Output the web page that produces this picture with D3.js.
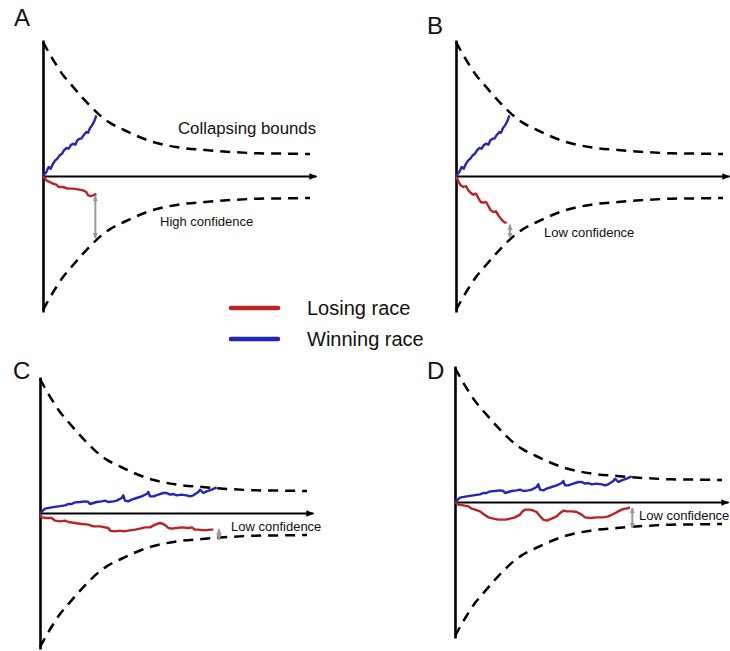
<!DOCTYPE html>
<html><head><meta charset="utf-8">
<script src="https://cdn.jsdelivr.net/npm/d3@7"></script>
<style>
body{margin:0;background:#fff}
svg{display:block}
text{font-family:"Liberation Sans",Arial,Helvetica,sans-serif;fill:#111}
</style>
</head><body>
<svg id="chart" width="730" height="651"></svg>
<script>
// ---- data (time in ms, evidence in arbitrary units) ----
const timeMax = 819;
const evMax = 408;

// collapsing bound: time samples and bound level (symmetric +/-)
const boundTime  = [0, 10, 20, 40, 60, 81, 121, 162, 200, 243, 324, 405, 486, 567, 648, 729, 801];
const boundLevel = [402, 384, 366, 333, 303, 278, 232, 190, 160, 138, 104, 86, 78, 72, 68, 67, 66];

// winning race used in panels A and B
const winAB = [[0,0],[10,12],[17,27],[23,22],[30,37],[37,47],[43,52],[50,62],[57,67],[63,77],[70,84],[77,82],
  [83,92],[90,97],[97,94],[103,107],[110,112],[115,112],[123,124],[130,132],[135,130],[140,142],[147,152],
  [150,157],[155,167],[160,182]];
// losing race panel A (high confidence)
const loseA = [[0,0],[10,-13],[20,-18],[30,-23],[40,-26],[47,-33],[60,-33],[75,-38],[90,-38],[105,-40],
  [120,-43],[130,-48],[135,-58],[145,-60],[155,-56],[160,-53]];
// losing race panel B (low confidence)
const loseB = [[0,0],[7,-16],[14,-28],[22,-33],[30,-30],[37,-43],[44,-50],[52,-56],[60,-53],[67,-66],
  [74,-78],[82,-80],[90,-78],[97,-90],[104,-103],[112,-108],[120,-106],[127,-118],[134,-128],[142,-136],
  [147,-140],[152,-140]];
// winning race used in panels C and D
const winCD = [[0,0],[15,13],[35,17],[55,20],[75,23],[85,27],[95,27],[105,32],[120,33],[135,35],[145,33],
  [150,27],[160,30],[170,33],[185,35],[195,37],[205,33],[220,35],[230,37],[245,45],[250,53],[255,37],
  [265,35],[275,40],[290,45],[305,50],[320,57],[325,63],[330,50],[340,50],[355,55],[370,60],[380,60],
  [390,55],[400,57],[410,53],[425,55],[440,53],[450,50],[460,53],[475,63],[480,70],[490,60],[500,65],
  [515,70],[530,77]];
// losing race panel C
const loseC = [[0,0],[5,-13],[20,-15],[35,-15],[45,-23],[60,-25],[75,-23],[85,-27],[105,-30],[125,-33],
  [145,-35],[160,-40],[180,-40],[195,-43],[205,-45],[210,-53],[225,-55],[240,-53],[250,-55],[265,-53],
  [285,-50],[300,-47],[315,-43],[330,-43],[345,-35],[360,-30],[370,-33],[380,-40],[385,-45],[395,-47],
  [410,-45],[425,-43],[445,-45],[455,-43],[465,-50],[475,-50],[495,-52],[510,-50],[520,-50]];
// losing race panel D
const loseD = [[0,0],[10,-8],[25,-10],[40,-13],[50,-20],[60,-23],[75,-28],[85,-36],[100,-46],[115,-50],
  [130,-53],[150,-53],[165,-50],[180,-46],[195,-38],[203,-28],[210,-23],[225,-23],[235,-26],[245,-30],
  [255,-43],[265,-53],[275,-56],[290,-50],[305,-43],[315,-33],[325,-26],[335,-28],[350,-28],[365,-30],
  [380,-38],[390,-46],[405,-48],[425,-46],[445,-46],[460,-43],[475,-36],[490,-28],[500,-23],[510,-20],
  [515,-20],[525,-16]];

// confidence gap arrows: [time, from evidence, to evidence]
const gapA = [157, -60, -186];
const gapB = [162, -146, -186];
const gapC = [537, -48, -80];
const gapD = [532, -18, -78];

const panelLetters = ["A", "B", "C", "D"];
const gapLabels = ["High confidence", "Low confidence", "Low confidence", "Low confidence"];
const legendLabels = ["Losing race", "Winning race"];

// ---- drawing ----
const RED = "#bb2222", BLUE = "#2424b8", GREY = "#999999";
const svg = d3.select("#chart");
const defs = svg.append("defs");
defs.append("marker").attr("id","axArrow").attr("markerUnits","userSpaceOnUse")
  .attr("viewBox","0 -5 10 10").attr("refX",9).attr("refY",0)
  .attr("markerWidth",9).attr("markerHeight",8).attr("orient","auto")
  .append("path").attr("d","M0,-4L10,0L0,4Z").attr("fill","#000");
defs.append("marker").attr("id","gArrow").attr("markerUnits","userSpaceOnUse")
  .attr("viewBox","0 -5 10 10").attr("refX",9).attr("refY",0)
  .attr("markerWidth",6).attr("markerHeight",6).attr("orient","auto-start-reverse")
  .append("path").attr("d","M0,-4.5L10,0L0,4.5Z").attr("fill",GREY);

const layout = [
  {ox:43,  oy:176, lx:14,  ly:26,  win:winAB, lose:loseA, gap:gapA, tx:160, ty:225.5},
  {ox:456, oy:176, lx:427, ly:34,  win:winAB, lose:loseB, gap:gapB, tx:544, ty:237},
  {ox:40,  oy:513, lx:13,  ly:379, win:winCD, lose:loseC, gap:gapC, tx:231, ty:530.5},
  {ox:455, oy:502, lx:427, ly:379, win:winCD, lose:loseD, gap:gapD, tx:639, ty:520}
];

layout.forEach((p, i) => {
  const x = d3.scaleLinear().domain([0, timeMax]).range([p.ox, p.ox + 273]);
  const y = d3.scaleLinear().domain([-evMax, evMax]).range([p.oy + 136, p.oy - 136]);
  const g = svg.append("g");

  // vertical axis
  const ya = g.append("g").attr("transform", `translate(${x(0)},0)`)
    .call(d3.axisLeft(y).tickValues([]).tickSizeOuter(0));
  ya.select(".domain").attr("stroke","#000").attr("stroke-width",2.6);

  // horizontal axis with arrow
  const xa = g.append("g").attr("transform", `translate(0,${y(0)})`)
    .call(d3.axisBottom(x).tickValues([]).tickSizeOuter(0));
  xa.select(".domain").attr("stroke","#000").attr("stroke-width",1.8)
    .attr("marker-end","url(#axArrow)");

  // bounds
  const bound = boundTime.map((t, k) => [t, boundLevel[k]]);
  const bl = d3.line().x(d => x(d[0])).y(d => y(d[1])).curve(d3.curveMonotoneX);
  const bl2 = d3.line().x(d => x(d[0])).y(d => y(-d[1])).curve(d3.curveMonotoneX);
  [bl, bl2].forEach(gen => g.append("path").attr("d", gen(bound))
    .attr("fill","none").attr("stroke","#000").attr("stroke-width",2.5)
    .attr("stroke-dasharray","10,7"));

  // races
  const wl = d3.line().x(d => x(d[0])).y(d => y(d[1]));
  g.append("path").attr("d", wl(p.lose)).attr("fill","none").attr("stroke",RED)
    .attr("stroke-width",2.4).attr("stroke-linejoin","round");
  g.append("path").attr("d", wl(p.win)).attr("fill","none").attr("stroke",BLUE)
    .attr("stroke-width",2.4).attr("stroke-linejoin","round");

  // confidence arrow
  g.append("line").attr("x1", x(p.gap[0])).attr("x2", x(p.gap[0]))
    .attr("y1", y(p.gap[1])).attr("y2", y(p.gap[2]))
    .attr("stroke",GREY).attr("stroke-width",2)
    .attr("marker-start","url(#gArrow)").attr("marker-end","url(#gArrow)");

  g.append("text").attr("x", p.tx).attr("y", p.ty).attr("font-size", 13)
    .text(gapLabels[i]);

  svg.append("text").attr("x", p.lx).attr("y", p.ly).attr("font-size", 24)
    .text(panelLetters[i]);
});

svg.append("text").attr("x",178).attr("y",133.5).attr("font-size",16.8).text("Collapsing bounds");

// legend
const legColors = [RED, BLUE];
const legY = [308, 339];
legendLabels.forEach((lab, k) => {
  svg.append("line").attr("x1",231).attr("x2",278).attr("y1",legY[k]).attr("y2",legY[k])
    .attr("stroke",legColors[k]).attr("stroke-width",4.5).attr("stroke-linecap","round");
  svg.append("text").attr("x",307).attr("y",legY[k]+6.5).attr("font-size",20).text(lab);
});
</script>
</body></html>
